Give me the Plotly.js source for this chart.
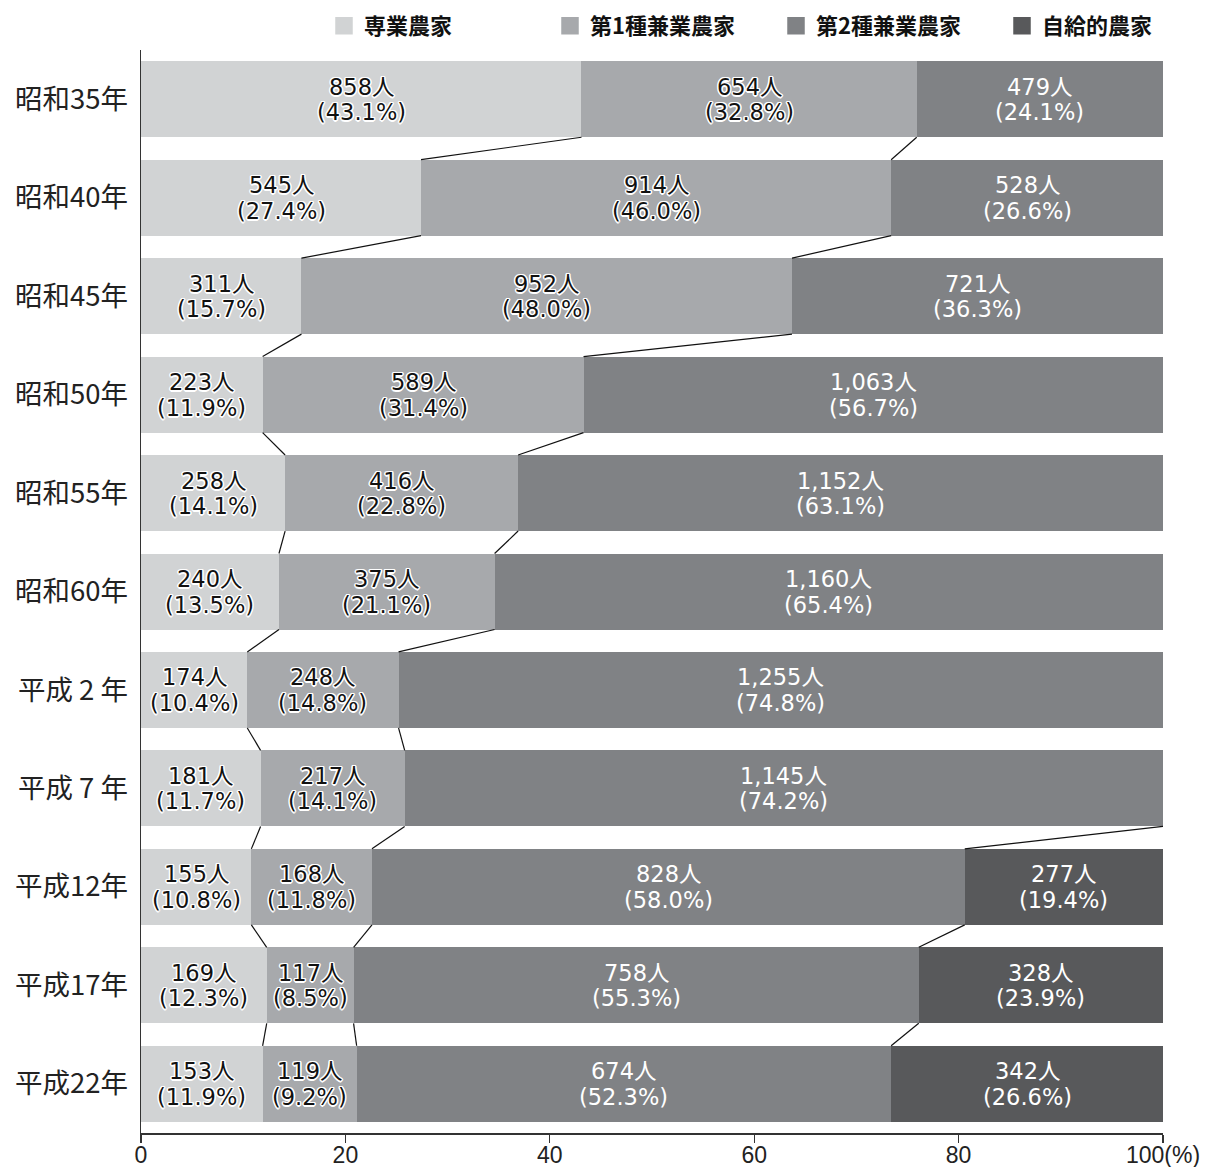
<!DOCTYPE html>
<html>
<head>
<meta charset="utf-8">
<script src="https://cdn.plot.ly/plotly-3.0.1.min.js"></script>
<style>
  html, body { margin: 0; padding: 0; background: #ffffff; }
  #chart { width: 1205px; height: 1167px; }
</style>
</head>
<body>
<div id="chart"></div>
<script>
// ---- data ----
const years = ['昭和35年','昭和40年','昭和45年','昭和50年','昭和55年','昭和60年','平成 2 年','平成 7 年','平成12年','平成17年','平成22年'];
const seriesNames = ['専業農家','第1種兼業農家','第2種兼業農家','自給的農家'];

const senCount  = [858, 545, 311, 223, 258, 240, 174, 181, 155, 169, 153];
const senPct    = [43.1, 27.4, 15.7, 11.9, 14.1, 13.5, 10.4, 11.7, 10.8, 12.3, 11.9];

const ken1Count = [654, 914, 952, 589, 416, 375, 248, 217, 168, 117, 119];
const ken1Pct   = [32.8, 46.0, 48.0, 31.4, 22.8, 21.1, 14.8, 14.1, 11.8, 8.5, 9.2];

const ken2Count = [479, 528, 721, 1063, 1152, 1160, 1255, 1145, 828, 758, 674];
const ken2Pct   = [24.1, 26.6, 36.3, 56.7, 63.1, 65.4, 74.8, 74.2, 58.0, 55.3, 52.3];

const jikyuCount = [null, null, null, null, null, null, null, null, 277, 328, 342];
const jikyuPct   = [null, null, null, null, null, null, null, null, 19.4, 23.9, 26.6];

const xTickVals = [0, 20, 40, 60, 80, 100];
const xTickText = ['0', '20', '40', '60', '80', '100(%)'];

// ---- styling ----
const colors = ['#d1d3d4', '#a7a9ac', '#808285', '#58595b'];
const darkText = [false, false, true, true];
const barWidth = 0.772;
const numFont = '"DejaVu Sans", "Noto Sans CJK JP", sans-serif';
const tickFont = '"Liberation Sans", "Noto Sans CJK JP", sans-serif';
const jpFont = '"Noto Sans CJK JP", sans-serif';
const whiteOutline = '1.5px 0 0 #fff, -1.5px 0 0 #fff, 0 1.5px 0 #fff, 0 -1.5px 0 #fff, 1.1px 1.1px 0 #fff, -1.1px -1.1px 0 #fff, 1.1px -1.1px 0 #fff, -1.1px 1.1px 0 #fff';

const counts = [senCount, ken1Count, ken2Count, jikyuCount];
const pcts = [senPct, ken1Pct, ken2Pct, jikyuPct];
const idx = years.map((_, i) => i);

const traces = pcts.map((p, s) => ({
  type: 'bar',
  orientation: 'h',
  name: seriesNames[s],
  x: p,
  y: idx,
  width: barWidth,
  marker: { color: colors[s], line: { width: 0 } },
  showlegend: false,
  hoverinfo: 'skip'
}));

// legend proxies (square swatches)
seriesNames.forEach((n, s) => {
  traces.push({
    type: 'scatter', mode: 'markers', name: n,
    x: [null], y: [null],
    marker: { symbol: 'square', size: 16, color: colors[s], line: { width: 1.5, color: colors[s] } },
    showlegend: true, hoverinfo: 'skip'
  });
});

// cumulative boundaries
const cum = idx.map(i => {
  let c = 0;
  return pcts.map(p => { c += (p[i] || 0); return c; });
});

// labels
const annotations = [];
idx.forEach(i => {
  let start = 0;
  pcts.forEach((p, s) => {
    const v = p[i];
    if (v == null) return;
    const cx = start + v / 2;
    start += v;
    const font = darkText[s]
      ? { family: numFont, size: 22.5, color: '#ffffff' }
      : { family: numFont, size: 22.5, color: '#111111', shadow: whiteOutline };
    annotations.push({
      x: cx, y: i, xref: 'x', yref: 'y',
      text: counts[s][i].toLocaleString('en-US') + '人',
      showarrow: false, xanchor: 'center', yanchor: 'middle',
      yshift: 12.5, font: font
    });
    annotations.push({
      x: cx, y: i, xref: 'x', yref: 'y',
      text: '(' + v.toFixed(1) + '%)',
      showarrow: false, xanchor: 'center', yanchor: 'middle',
      yshift: -13, font: font
    });
  });
});

// connector lines
const shapes = [];
for (let i = 0; i < years.length - 1; i++) {
  for (let k = 0; k < 3; k++) {
    const a = Math.round(cum[i][k] * 10) / 10;
    const b = Math.round(cum[i + 1][k] * 10) / 10;
    if (a >= 100 && b >= 100) continue;
    shapes.push({
      type: 'line', xref: 'x', yref: 'y',
      x0: a, y0: i + barWidth / 2,
      x1: b, y1: i + 1 - barWidth / 2,
      line: { color: '#111111', width: 1.2 }
    });
  }
}

const layout = {
  width: 1205, height: 1167,
  margin: { l: 141, r: 42, t: 50, b: 34, pad: 0 },
  paper_bgcolor: '#ffffff', plot_bgcolor: '#ffffff',
  barmode: 'stack',
  bargap: 0,
  showlegend: true,
  legend: {
    orientation: 'h',
    xref: 'container', yref: 'container',
    x: 324 / 1205, xanchor: 'left',
    y: 1 - 26 / 1167, yanchor: 'middle',
    entrywidth: 181, entrywidthmode: 'pixels',
    traceorder: 'normal',
    font: { family: jpFont, size: 22, color: '#111111', weight: 700 },
    bgcolor: 'rgba(0,0,0,0)', borderwidth: 0
  },
  xaxis: {
    range: [0, 100], fixedrange: true,
    tickvals: xTickVals, ticktext: xTickText,
    ticks: 'outside', ticklen: 8, tickwidth: 1.2, tickcolor: '#333333',
    ticklabelstandoff: -7,
    showline: true, linecolor: '#333333', linewidth: 1.5,
    showgrid: false, zeroline: false,
    tickfont: { family: tickFont, size: 23, color: '#222222' }
  },
  yaxis: {
    range: [10.5, -0.5], fixedrange: true,
    tickvals: idx, ticktext: years,
    ticks: '', ticklabelstandoff: 6,
    showline: true, linecolor: '#333333', linewidth: 1.5,
    showgrid: false, zeroline: false,
    tickfont: { family: jpFont, size: 27.5, color: '#222222' }
  },
  shapes: shapes,
  annotations: annotations
};

Plotly.newPlot('chart', traces, layout, { displayModeBar: false, staticPlot: true });
</script>
</body>
</html>
